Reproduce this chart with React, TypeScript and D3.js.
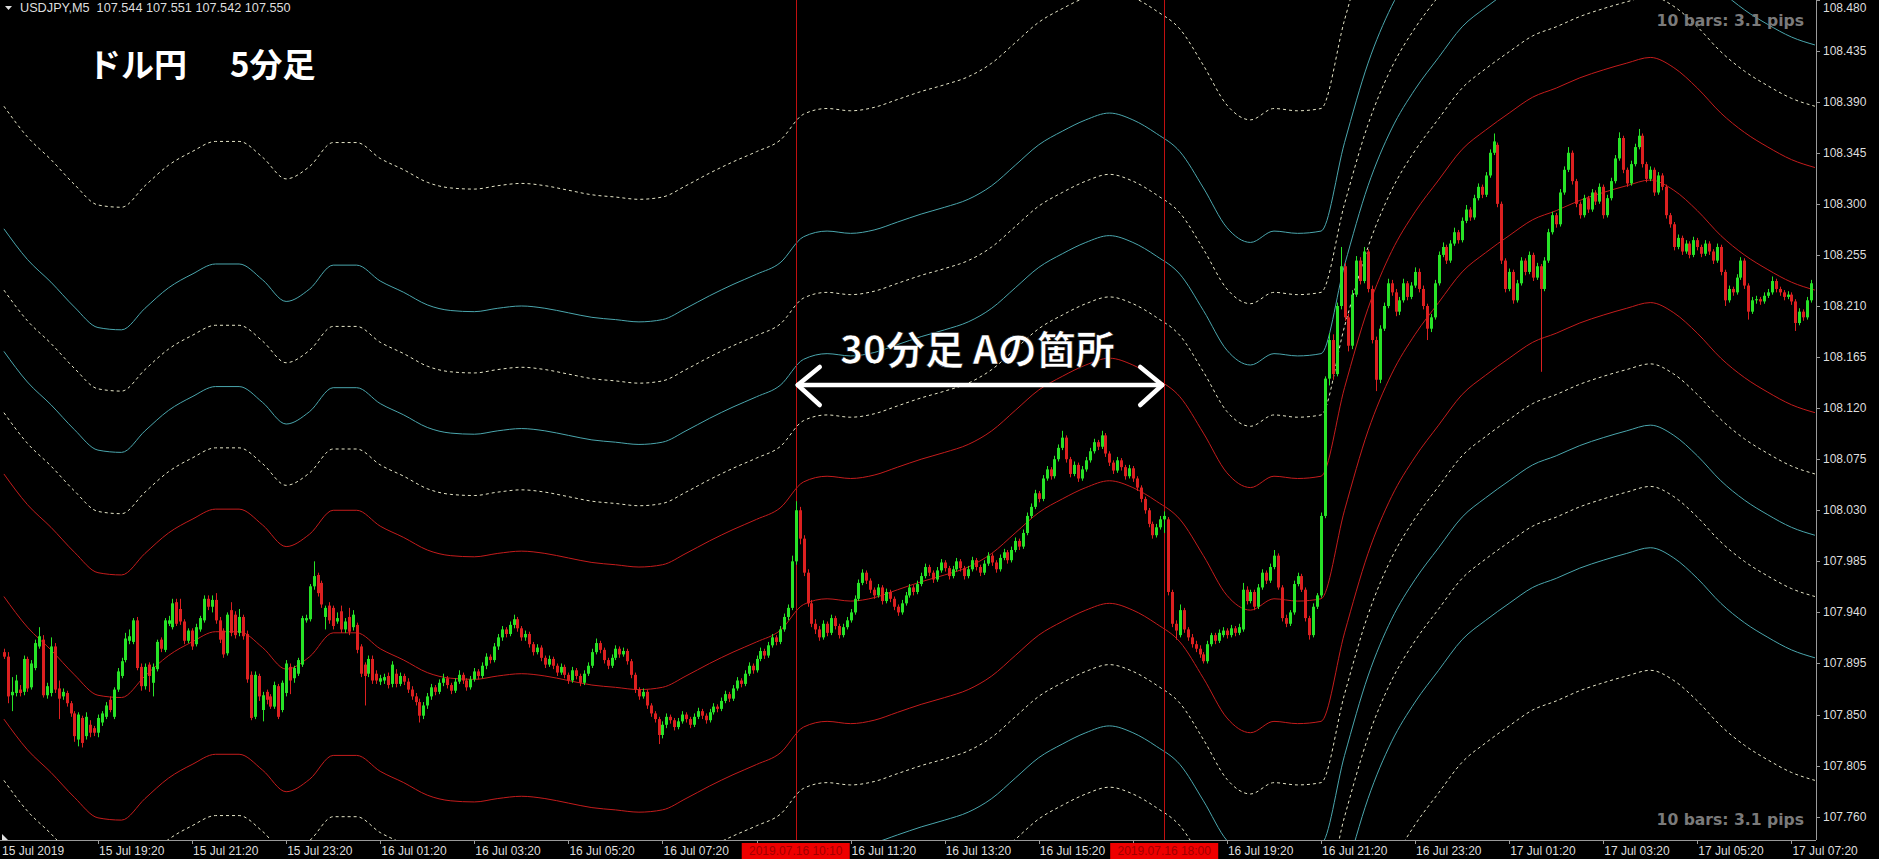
import React from "react";
import * as d3 from "d3";

const W = 1879;
const H = 859;
const PLOT_R = 1816;
const PLOT_B = 840;

// price axis
const priceTickValues = [107.76, 107.805, 107.85, 107.895, 107.94, 107.985, 108.03, 108.075, 108.12, 108.165, 108.21, 108.255, 108.3, 108.345, 108.39, 108.435, 108.48];
const priceTickLabels = ["107.760", "107.805", "107.850", "107.895", "107.940", "107.985", "108.030", "108.075", "108.120", "108.165", "108.210", "108.255", "108.300", "108.345", "108.390", "108.435", "108.480"];

// time axis (bar index of each tick, first bar = 15 Jul 17:20)
const timeTickBars = [24, 48, 72, 96, 120, 144, 168, 192, 216, 240, 264, 288, 312, 336, 360, 384, 408, 432, 456];
const timeTickLabels = ["15 Jul 19:20", "15 Jul 21:20", "15 Jul 23:20", "16 Jul 01:20", "16 Jul 03:20", "16 Jul 05:20", "16 Jul 07:20", "", "16 Jul 11:20", "16 Jul 13:20", "16 Jul 15:20", "", "16 Jul 19:20", "16 Jul 21:20", "16 Jul 23:20", "17 Jul 01:20", "17 Jul 03:20", "17 Jul 05:20", "17 Jul 07:20"];
const firstLabel = "15 Jul 2019";

const markerBars = [202, 296];
const markerLabels = ["2019.07.16 10:10", "2019.07.16 18:00"];

// candles [open, high, low, close] in points above 107.000
const candles: number[][] = [
  [905, 908, 899, 901], [901, 905, 860, 866], [867, 883, 853, 870], [869, 885, 866, 880], [872, 876, 866, 869],
  [870, 902, 867, 899], [899, 901, 870, 873], [874, 898, 872, 895], [891, 916, 889, 913], [910, 927, 908, 919],
  [916, 920, 865, 867], [867, 878, 864, 875], [869, 918, 866, 910], [910, 913, 869, 872], [873, 880, 846, 864],
  [866, 873, 863, 870], [869, 871, 857, 860], [860, 862, 848, 851], [851, 853, 826, 831], [828, 852, 822, 850],
  [847, 849, 821, 825], [831, 852, 828, 848], [841, 845, 830, 834], [838, 840, 831, 834], [834, 850, 830, 847],
  [843, 853, 840, 851], [848, 861, 846, 858], [863, 866, 852, 854], [848, 874, 846, 872], [872, 891, 870, 888],
  [884, 900, 882, 897], [898, 922, 896, 917], [915, 925, 912, 919], [914, 935, 912, 933], [933, 936, 889, 891],
  [892, 895, 871, 875], [875, 895, 872, 892], [894, 896, 870, 884], [878, 895, 866, 892], [890, 916, 888, 914],
  [916, 918, 905, 908], [907, 935, 905, 933], [930, 937, 928, 933], [927, 952, 925, 948], [949, 952, 928, 930],
  [943, 952, 929, 932], [932, 934, 912, 915], [915, 926, 913, 924], [924, 926, 907, 910], [912, 930, 910, 927],
  [925, 937, 923, 935], [933, 955, 931, 952], [952, 955, 942, 945], [945, 955, 940, 951], [951, 957, 930, 933],
  [933, 936, 913, 916], [924, 926, 900, 903], [904, 940, 902, 938], [942, 949, 919, 922], [938, 941, 917, 920],
  [922, 943, 919, 936], [936, 938, 916, 919], [921, 924, 878, 881], [885, 888, 845, 847], [848, 888, 846, 885],
  [884, 886, 862, 866], [854, 870, 844, 867], [870, 872, 859, 863], [866, 868, 855, 857], [857, 879, 855, 876],
  [875, 877, 846, 848], [854, 880, 852, 878], [869, 898, 866, 895], [892, 895, 868, 880], [882, 893, 878, 891],
  [886, 900, 884, 898], [894, 937, 892, 935], [933, 938, 931, 935], [934, 965, 932, 963], [963, 985, 960, 972],
  [973, 975, 954, 957], [966, 968, 944, 947], [936, 946, 925, 944], [946, 949, 930, 933], [944, 946, 925, 928],
  [932, 940, 930, 935], [941, 946, 922, 925], [925, 935, 922, 932], [936, 944, 920, 923], [927, 942, 924, 938],
  [929, 931, 904, 907], [910, 912, 883, 886], [894, 896, 858, 884], [886, 902, 883, 899], [899, 902, 877, 880],
  [886, 889, 877, 880], [879, 885, 876, 882], [880, 886, 877, 883], [884, 887, 873, 876], [877, 897, 874, 894],
  [886, 890, 874, 877], [877, 887, 875, 884], [884, 886, 876, 879], [879, 882, 869, 872], [872, 875, 863, 866],
  [866, 869, 858, 861], [861, 864, 843, 849], [849, 861, 846, 858], [858, 869, 855, 866], [866, 877, 863, 874],
  [874, 876, 867, 870], [870, 881, 868, 878], [878, 886, 875, 882], [882, 884, 873, 876], [876, 878, 868, 871],
  [871, 882, 869, 879], [879, 889, 877, 885], [885, 887, 877, 880], [880, 882, 871, 874], [874, 884, 872, 881],
  [881, 891, 879, 888], [888, 890, 881, 884], [884, 896, 882, 893], [893, 904, 890, 901], [901, 903, 895, 898],
  [898, 913, 896, 910], [910, 921, 907, 918], [918, 928, 915, 925], [925, 927, 918, 921], [921, 932, 919, 929],
  [929, 938, 926, 934], [934, 936, 923, 926], [926, 928, 915, 918], [918, 924, 915, 921], [921, 923, 909, 912],
  [912, 914, 902, 905], [905, 912, 903, 909], [909, 911, 897, 900], [900, 902, 891, 894], [894, 902, 892, 899],
  [899, 901, 890, 893], [893, 895, 884, 887], [887, 895, 885, 892], [892, 894, 882, 885], [885, 887, 877, 880],
  [880, 892, 878, 889], [889, 891, 881, 884], [884, 886, 875, 878], [878, 889, 876, 886], [886, 896, 884, 893],
  [893, 908, 891, 905], [905, 917, 903, 913], [913, 915, 904, 907], [907, 909, 895, 898], [898, 900, 890, 893],
  [893, 903, 891, 900], [900, 911, 898, 908], [908, 910, 900, 903], [903, 909, 901, 906], [906, 908, 894, 897],
  [897, 899, 882, 885], [885, 887, 869, 872], [872, 874, 863, 866], [866, 873, 864, 870], [870, 872, 855, 858],
  [858, 860, 848, 851], [851, 853, 843, 846], [846, 848, 824, 832], [832, 844, 829, 841], [841, 851, 838, 848],
  [848, 850, 842, 845], [845, 847, 836, 839], [839, 847, 837, 844], [844, 853, 842, 850], [850, 852, 843, 846],
  [846, 848, 838, 841], [841, 851, 839, 848], [848, 856, 846, 853], [853, 855, 846, 849], [849, 851, 842, 845],
  [845, 855, 843, 852], [852, 860, 850, 857], [857, 859, 852, 855], [855, 865, 853, 862], [862, 871, 860, 868],
  [868, 870, 861, 864], [864, 876, 862, 873], [873, 883, 871, 880], [880, 882, 874, 877], [877, 889, 875, 886],
  [886, 896, 884, 893], [893, 895, 886, 889], [889, 902, 887, 899], [899, 909, 897, 906], [906, 908, 899, 902],
  [902, 914, 900, 911], [911, 921, 909, 918], [918, 920, 911, 914], [914, 928, 912, 925], [925, 939, 923, 936],
  [936, 947, 933, 944], [944, 990, 942, 985], [985, 1038, 982, 1030], [1030, 1033, 1000, 1005], [1005, 1008, 972, 975],
  [975, 978, 945, 948], [948, 951, 927, 930], [930, 934, 921, 925], [925, 928, 915, 918], [918, 933, 916, 930],
  [930, 932, 919, 922], [922, 938, 920, 935], [935, 937, 925, 928], [928, 930, 917, 920], [920, 930, 918, 927],
  [927, 936, 925, 933], [933, 943, 931, 940], [940, 955, 938, 952], [952, 969, 950, 966], [966, 978, 964, 975],
  [975, 977, 965, 968], [968, 970, 957, 960], [960, 962, 952, 955], [955, 965, 953, 962], [962, 964, 947, 950],
  [950, 961, 948, 958], [958, 960, 949, 952], [952, 954, 942, 945], [945, 947, 937, 940], [940, 951, 938, 948],
  [948, 958, 946, 955], [955, 965, 953, 962], [962, 964, 955, 958], [958, 968, 956, 965], [965, 975, 963, 972],
  [972, 983, 970, 980], [980, 982, 972, 975], [975, 977, 966, 969], [969, 980, 967, 977], [977, 987, 975, 984],
  [984, 986, 976, 979], [979, 981, 969, 972], [972, 981, 970, 978], [978, 988, 976, 985], [985, 987, 976, 979],
  [979, 981, 969, 972], [972, 981, 970, 978], [978, 989, 976, 986], [986, 988, 977, 980], [980, 982, 972, 975],
  [975, 986, 973, 983], [983, 993, 981, 990], [990, 992, 981, 984], [984, 986, 975, 978], [978, 991, 976, 988],
  [988, 996, 986, 993], [993, 995, 983, 986], [986, 998, 984, 995], [995, 1006, 993, 1003], [1003, 1005, 995, 998],
  [998, 1013, 996, 1010], [1010, 1028, 1008, 1025], [1025, 1036, 1023, 1033], [1033, 1048, 1031, 1045], [1045, 1047, 1037, 1040],
  [1040, 1061, 1038, 1058], [1058, 1069, 1056, 1066], [1066, 1068, 1057, 1060], [1060, 1078, 1058, 1075], [1075, 1088, 1073, 1085],
  [1085, 1100, 1083, 1094], [1094, 1096, 1072, 1075], [1075, 1077, 1059, 1062], [1062, 1073, 1060, 1070], [1070, 1072, 1055, 1058],
  [1058, 1069, 1056, 1066], [1066, 1077, 1064, 1074], [1074, 1085, 1072, 1082], [1082, 1093, 1080, 1090], [1090, 1092, 1083, 1086],
  [1086, 1100, 1084, 1096], [1096, 1098, 1077, 1080], [1080, 1082, 1069, 1072], [1072, 1074, 1062, 1065], [1065, 1077, 1063, 1074],
  [1074, 1076, 1065, 1068], [1068, 1070, 1057, 1060], [1060, 1070, 1058, 1067], [1067, 1069, 1055, 1058], [1058, 1060, 1047, 1050],
  [1050, 1052, 1037, 1040], [1040, 1042, 1027, 1030], [1030, 1032, 1015, 1018], [1018, 1020, 1005, 1008], [1008, 1018, 1006, 1015],
  [1015, 1025, 1013, 1022], [1022, 1029, 1010, 1025], [1022, 1024, 955, 958], [958, 960, 927, 930], [930, 933, 916, 924],
  [920, 947, 918, 942], [942, 944, 922, 925], [925, 927, 915, 918], [918, 921, 909, 912], [912, 915, 905, 908],
  [908, 911, 900, 903], [903, 905, 895, 897], [897, 915, 895, 912], [912, 922, 910, 920], [920, 922, 912, 915],
  [915, 925, 913, 922], [920, 927, 918, 924], [924, 926, 917, 920], [920, 929, 918, 926], [926, 928, 919, 922],
  [922, 930, 920, 927], [925, 966, 923, 960], [960, 963, 947, 950], [950, 960, 948, 958], [958, 960, 942, 945],
  [945, 965, 943, 962], [962, 978, 960, 975], [975, 977, 965, 968], [968, 983, 966, 980], [980, 995, 978, 990],
  [990, 992, 960, 962], [962, 964, 932, 935], [935, 938, 927, 930], [930, 942, 928, 940], [940, 968, 938, 965],
  [965, 975, 963, 972], [972, 974, 958, 960], [960, 962, 932, 935], [935, 937, 916, 920], [920, 948, 918, 945],
  [945, 957, 943, 955], [955, 1028, 953, 1025], [1025, 1148, 1023, 1146], [1146, 1186, 1140, 1180], [1180, 1185, 1145, 1150],
  [1150, 1213, 1148, 1210], [1210, 1262, 1207, 1245], [1245, 1248, 1197, 1200], [1200, 1203, 1170, 1175], [1175, 1224, 1172, 1220],
  [1220, 1254, 1218, 1250], [1250, 1253, 1229, 1232], [1232, 1262, 1230, 1258], [1258, 1260, 1222, 1225], [1225, 1228, 1177, 1180],
  [1180, 1183, 1135, 1145], [1145, 1193, 1142, 1190], [1190, 1213, 1188, 1210], [1210, 1234, 1208, 1230], [1230, 1233, 1219, 1222],
  [1222, 1225, 1201, 1205], [1205, 1218, 1202, 1215], [1215, 1234, 1213, 1230], [1230, 1232, 1215, 1218], [1218, 1231, 1216, 1228],
  [1228, 1244, 1226, 1240], [1240, 1243, 1222, 1225], [1225, 1228, 1207, 1210], [1210, 1212, 1180, 1190], [1190, 1203, 1187, 1200],
  [1200, 1233, 1198, 1230], [1230, 1258, 1228, 1255], [1255, 1266, 1253, 1262], [1262, 1264, 1247, 1250], [1250, 1268, 1248, 1265],
  [1265, 1279, 1263, 1275], [1275, 1277, 1265, 1268], [1268, 1288, 1266, 1285], [1285, 1299, 1283, 1295], [1295, 1297, 1285, 1288],
  [1288, 1308, 1286, 1305], [1305, 1318, 1303, 1315], [1315, 1317, 1305, 1308], [1308, 1328, 1306, 1325], [1325, 1348, 1323, 1345],
  [1345, 1362, 1343, 1355], [1352, 1354, 1297, 1300], [1300, 1302, 1247, 1250], [1250, 1252, 1222, 1225], [1225, 1243, 1223, 1240],
  [1240, 1242, 1212, 1215], [1215, 1233, 1213, 1230], [1230, 1253, 1228, 1250], [1250, 1252, 1237, 1240], [1240, 1258, 1238, 1255],
  [1255, 1257, 1232, 1235], [1235, 1248, 1233, 1245], [1245, 1247, 1152, 1225], [1225, 1253, 1223, 1250], [1250, 1278, 1248, 1275],
  [1275, 1293, 1273, 1290], [1290, 1292, 1279, 1282], [1282, 1313, 1280, 1310], [1310, 1333, 1308, 1330], [1330, 1350, 1328, 1345],
  [1345, 1347, 1317, 1320], [1320, 1322, 1297, 1300], [1300, 1302, 1287, 1290], [1290, 1308, 1288, 1305], [1305, 1307, 1292, 1295],
  [1295, 1313, 1293, 1310], [1310, 1312, 1299, 1302], [1302, 1318, 1300, 1315], [1315, 1317, 1287, 1290], [1290, 1308, 1288, 1305],
  [1305, 1323, 1303, 1320], [1320, 1343, 1318, 1340], [1340, 1363, 1338, 1358], [1358, 1360, 1327, 1330], [1330, 1332, 1315, 1318],
  [1318, 1338, 1316, 1335], [1335, 1353, 1333, 1350], [1350, 1366, 1348, 1360], [1360, 1362, 1332, 1335], [1335, 1337, 1319, 1322],
  [1322, 1333, 1320, 1330], [1330, 1332, 1307, 1310], [1310, 1328, 1308, 1325], [1325, 1327, 1312, 1315], [1315, 1317, 1287, 1290],
  [1290, 1292, 1279, 1282], [1282, 1284, 1259, 1262], [1262, 1273, 1260, 1270], [1270, 1272, 1255, 1258], [1258, 1268, 1256, 1265],
  [1265, 1267, 1252, 1255], [1255, 1271, 1253, 1268], [1268, 1270, 1259, 1262], [1262, 1264, 1253, 1256], [1256, 1268, 1254, 1265],
  [1265, 1267, 1255, 1258], [1258, 1260, 1247, 1250], [1250, 1265, 1248, 1262], [1262, 1264, 1237, 1240], [1240, 1242, 1210, 1215],
  [1215, 1228, 1213, 1225], [1225, 1227, 1219, 1222], [1222, 1238, 1220, 1235], [1235, 1253, 1233, 1250], [1250, 1252, 1225, 1228],
  [1228, 1230, 1198, 1205], [1205, 1218, 1203, 1215], [1215, 1219, 1212, 1216], [1216, 1218, 1211, 1214], [1214, 1222, 1212, 1219],
  [1219, 1225, 1217, 1222], [1222, 1236, 1220, 1232], [1232, 1234, 1222, 1225], [1225, 1227, 1219, 1222], [1222, 1224, 1215, 1218],
  [1218, 1223, 1216, 1220], [1220, 1222, 1211, 1214], [1214, 1216, 1188, 1195], [1195, 1208, 1193, 1205], [1205, 1207, 1197, 1200],
  [1200, 1218, 1198, 1215], [1215, 1233, 1213, 1230],
];

// 30-minute band centre, one value every 6 bars (bar 0, 6, 12, ...)
const bandCenter = [
  107.954, 107.927, 107.907, 107.885, 107.867, 107.865, 107.884, 107.902, 107.914, 107.923,
  107.923, 107.909, 107.890, 107.901, 107.922, 107.922, 107.908, 107.898, 107.887, 107.882,
  107.881, 107.884, 107.886, 107.884, 107.880, 107.876, 107.874, 107.872, 107.874, 107.884,
  107.895, 107.905, 107.914, 107.924, 107.947, 107.952, 107.950, 107.953, 107.960, 107.967,
  107.973, 107.980, 107.992, 108.010, 108.028, 108.040, 108.050, 108.056, 108.050, 108.038,
  108.022, 107.990, 107.955, 107.942, 107.952, 107.950, 107.952, 108.030, 108.100, 108.150,
  108.185, 108.213, 108.240, 108.257, 108.272, 108.286, 108.294, 108.303, 108.310, 108.316,
  108.321, 108.312, 108.294, 108.272, 108.255, 108.242, 108.231, 108.224,
];
const bandUnit = 0.108;
const bandMultipliers = [1, 1.5, 2, 2.5, 3, 4];
const bandKinds = ["red", "dash", "teal", "dash", "teal", "dash"];

const COLORS = {
  bull: "#27e327",
  bear: "#dc2020",
  red: "#c41c1c",
  teal: "#4aa6ad",
  dash: "#e6e6c8",
  marker: "#c01010",
  axis: "#9a9a9a",
  text: "#dedede",
};

export default function App() {
  const x = d3.scaleLinear().domain([0, 461]).range([3.9, 3.9 + 3.92 * 461]);
  const y = d3.scaleLinear().domain([107.76, 108.39]).range([816.7, 101.7]);
  const pv = (v: number) => 107 + v / 1000;

  const centerPts = bandCenter.map((c, k) => [k * 6, c] as [number, number]);
  const lineGen = (offset: number) =>
    d3
      .line<[number, number]>()
      .x((d) => x(d[0]))
      .y((d) => y(d[1] + offset))
      .curve(d3.curveMonotoneX)(centerPts) || "";

  const bandLines: { d: string; kind: string }[] = [];
  bandLines.push({ d: lineGen(0), kind: "red" });
  bandMultipliers.forEach((m, i) => {
    bandLines.push({ d: lineGen(m * bandUnit), kind: bandKinds[i] });
    bandLines.push({ d: lineGen(-m * bandUnit), kind: bandKinds[i] });
  });

  const axisFont = "'Liberation Sans', Arial, sans-serif";
  const boldFont = "'DejaVu Sans', Verdana, sans-serif";
  const cjkFont = "'Noto Sans CJK JP', 'Noto Sans', sans-serif";

  return (
    <svg
      width={W}
      height={H}
      style={{ position: "fixed", left: 0, top: 0, background: "#000", display: "block" }}
    >
      <defs>
        <clipPath id="plot">
          <rect x={0} y={0} width={PLOT_R} height={PLOT_B} />
        </clipPath>
      </defs>
      <rect x={0} y={0} width={W} height={H} fill="#000" />

      <g clipPath="url(#plot)">
        {bandLines.map((b, i) => (
          <path
            key={i}
            d={b.d}
            fill="none"
            stroke={COLORS[b.kind as "red" | "teal" | "dash"]}
            strokeWidth={1}
            strokeDasharray={b.kind === "dash" ? "3,3" : undefined}
          />
        ))}

        {markerBars.map((b, i) => (
          <line key={i} x1={Math.round(x(b)) + 0.5} x2={Math.round(x(b)) + 0.5} y1={0} y2={PLOT_B} stroke={COLORS.marker} strokeWidth={1} />
        ))}

        {candles.map((c, i) => {
          const [o, h, l, cl] = c;
          const bull = cl >= o;
          const col = bull ? COLORS.bull : COLORS.bear;
          const cx = Math.round(x(i));
          const top = y(pv(Math.max(o, cl)));
          const bot = y(pv(Math.min(o, cl)));
          return (
            <g key={i}>
              <line x1={cx + 0.5} x2={cx + 0.5} y1={y(pv(h))} y2={y(pv(l))} stroke={col} strokeWidth={1} />
              <rect x={cx - 1} y={top} width={3} height={Math.max(1, bot - top)} fill={col} />
            </g>
          );
        })}
      </g>

      {/* header */}
      <path d="M5,6 L12,6 L8.5,10 Z" fill="#e0e0e0" />
      <text x={20} y={12} fontFamily={axisFont} fontSize={12.7} fill={COLORS.text} xmlSpace="preserve" style={{ whiteSpace: "pre" }}>
        {"USDJPY,M5  107.544 107.551 107.542 107.550"}
      </text>

      <text x={88} y={77} fontFamily={cjkFont} fontWeight={700} fontSize={33} fill="#ffffff">ドル円</text>
      <text x={230} y={77} fontFamily={cjkFont} fontWeight={700} fontSize={33} fill="#ffffff">5分足</text>

      <text x={1804} y={26} textAnchor="end" fontFamily={boldFont} fontWeight={700} fontSize={15.6} fill="#7a7a7a">10 bars: 3.1 pips</text>
      <text x={1804} y={825} textAnchor="end" fontFamily={boldFont} fontWeight={700} fontSize={15.6} fill="#7a7a7a">10 bars: 3.1 pips</text>

      {/* annotation */}
      <text x={840} y={364} fontFamily={cjkFont} fontWeight={700} fontSize={39} fill="#ffffff" stroke="#000" strokeWidth={0.6}>30分足 Aの箇所</text>
      <g stroke="#ffffff" strokeWidth={4.5} strokeLinecap="round" strokeLinejoin="round" fill="none">
        <line x1={x(markerBars[0]) + 2} x2={x(markerBars[1]) - 2} y1={385} y2={385} />
        <polyline points={`${x(markerBars[0]) + 24},367 ${x(markerBars[0]) + 2},385 ${x(markerBars[0]) + 24},405`} />
        <polyline points={`${x(markerBars[1]) - 24},367 ${x(markerBars[1]) - 2},385 ${x(markerBars[1]) - 24},405`} />
      </g>

      {/* axes */}
      <line x1={PLOT_R + 0.5} x2={PLOT_R + 0.5} y1={0} y2={PLOT_B} stroke={COLORS.axis} />
      <line x1={0} x2={PLOT_R} y1={PLOT_B + 0.5} y2={PLOT_B + 0.5} stroke={COLORS.axis} />
      {priceTickValues.map((v, i) => (
        <g key={i}>
          <line x1={PLOT_R} x2={PLOT_R + 4} y1={Math.max(0.5, Math.round(y(v)) + 0.5)} y2={Math.max(0.5, Math.round(y(v)) + 0.5)} stroke={COLORS.axis} />
          <text x={PLOT_R + 7} y={Math.max(12, y(v) + 4)} fontFamily={axisFont} fontSize={12} fill={COLORS.text}>{priceTickLabels[i]}</text>
        </g>
      ))}
      <path d="M2,834 L2,840 L8,840 Z" fill="#e0e0e0" />
      <text x={2} y={855} fontFamily={axisFont} fontSize={12} fill={COLORS.text}>{firstLabel}</text>
      {timeTickBars.map((b, i) => (
        <g key={i}>
          <line x1={Math.round(x(b)) + 0.5} x2={Math.round(x(b)) + 0.5} y1={PLOT_B} y2={PLOT_B + 4} stroke={COLORS.axis} />
          {timeTickLabels[i] && (
            <text x={x(b) + 1} y={855} fontFamily={axisFont} fontSize={12} fill={COLORS.text}>{timeTickLabels[i]}</text>
          )}
        </g>
      ))}
      {markerBars.map((b, i) => (
        <g key={i}>
          <rect x={x(b) - 54} y={843} width={108} height={16} fill="#ee0000" />
          <text x={x(b)} y={855} textAnchor="middle" fontFamily={axisFont} fontSize={12} fill="#a00000">{markerLabels[i]}</text>
        </g>
      ))}
    </svg>
  );
}
